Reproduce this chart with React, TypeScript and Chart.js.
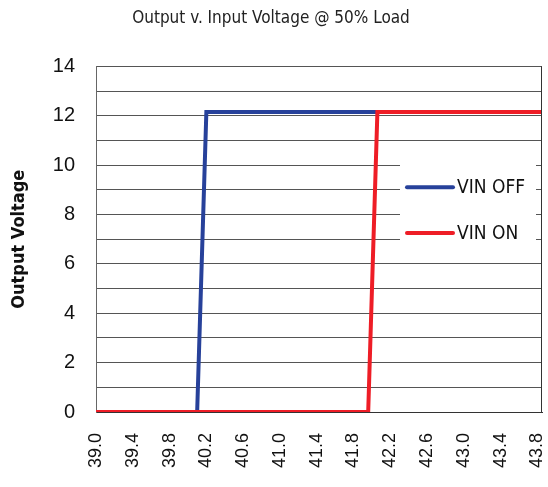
import React, { useEffect, useRef } from "react";
import { Chart, registerables } from "chart.js";

Chart.register(...registerables);

const titleText = "Output v. Input Voltage @ 50% Load";
const yAxisTitle = "Output Voltage";
const seriesNames = ["VIN OFF", "VIN ON"];
const seriesColors = ["#27419A", "#EE1D26"];

// input voltage (x) and output voltage (y) for each series
const vinOffX = [39.0, 40.1, 40.2, 43.85];
const vinOffY = [0, 0, 12.15, 12.15];
const vinOnX = [39.0, 41.96, 42.06, 43.85];
const vinOnY = [0, 0, 12.15, 12.15];

// axis ticks
const xTicks = [39.0, 39.4, 39.8, 40.2, 40.6, 41.0, 41.4, 41.8, 42.2, 42.6, 43.0, 43.4, 43.8];
const yTicks = [0, 1, 2, 3, 4, 5, 6, 7, 8, 9, 10, 11, 12, 13, 14];
const xMin = 39.0;
const xMax = 43.85;
const yMin = 0;
const yMax = 14;

const CONDENSED = "'Liberation Sans Narrow', 'DejaVu Sans Condensed', 'Liberation Sans', sans-serif";
const REGULAR = "'Liberation Sans', Arial, sans-serif";

const framePlugin = {
  id: "frameAndLegend",
  afterDatasetsDraw(chart: any) {
    const ctx = chart.ctx;
    const area = chart.chartArea;
    const yS = chart.scales.y;
    ctx.save();
    // right border of plot
    ctx.strokeStyle = "#333";
    ctx.lineWidth = 1;
    ctx.beginPath();
    ctx.moveTo(Math.round(area.right) - 0.5, area.top);
    ctx.lineTo(Math.round(area.right) - 0.5, area.bottom);
    ctx.stroke();
    // legend box
    ctx.fillStyle = "#ffffff";
    const boxLeft = 400;
    const boxRight = area.right - 6;
    const top = yS.getPixelForValue(10.35);
    const bottom = yS.getPixelForValue(6.4);
    ctx.fillRect(boxLeft, top, boxRight - boxLeft, bottom - top);
    const rows = [yS.getPixelForValue(9.1), yS.getPixelForValue(7.25)];
    chart.data.datasets.forEach((ds: any, i: number) => {
      const y = rows[i];
      ctx.strokeStyle = ds.borderColor;
      ctx.lineWidth = 4;
      ctx.lineCap = "round";
      ctx.beginPath();
      ctx.moveTo(407, y);
      ctx.lineTo(453, y);
      ctx.stroke();
      ctx.fillStyle = "#111";
      ctx.font = `19px ${CONDENSED}`;
      ctx.textBaseline = "middle";
      ctx.textAlign = "left";
      ctx.fillText(ds.label, 457, y + 1);
    });
    ctx.restore();
  },
};

export default function App() {
  const ref = useRef<HTMLCanvasElement | null>(null);
  useEffect(() => {
    if (!ref.current) return;
    const mk = (xs: number[], ys: number[]) => xs.map((x, i) => ({ x, y: ys[i] }));
    const chart = new Chart(ref.current, {
      type: "line",
      data: {
        datasets: [
          {
            label: seriesNames[0],
            data: mk(vinOffX, vinOffY),
            borderColor: seriesColors[0],
            backgroundColor: seriesColors[0],
            borderWidth: 4,
            pointRadius: 0,
            tension: 0,
            order: 2,
          },
          {
            label: seriesNames[1],
            data: mk(vinOnX, vinOnY),
            borderColor: seriesColors[1],
            backgroundColor: seriesColors[1],
            borderWidth: 4,
            pointRadius: 0,
            tension: 0,
            order: 1,
          },
        ],
      },
      options: {
        animation: false,
        responsive: false,
        maintainAspectRatio: false,
        layout: { padding: { left: 0, right: 6, top: 0, bottom: 0 } },
        plugins: {
          legend: { display: false },
          tooltip: { enabled: false },
          title: {
            display: true,
            text: titleText,
            color: "#222",
            font: { family: CONDENSED, size: 17, weight: "normal" },
            padding: { top: 8, bottom: 38 },
          },
        },
        scales: {
          x: {
            type: "linear",
            min: xMin,
            max: xMax,
            border: { display: true, color: "#333", width: 1 },
            grid: { display: false, drawTicks: false },
            afterBuildTicks: (s: any) => {
              s.ticks = xTicks.map((v) => ({ value: v }));
            },
            ticks: {
              autoSkip: false,
              minRotation: 90,
              maxRotation: 90,
              padding: 21,
              color: "#111",
              font: { family: REGULAR, size: 18 },
              callback: (v: any) => Number(v).toFixed(1),
            },
            afterFit: (s: any) => {
              s.height = 75;
              s.paddingRight = 0;
              s.paddingLeft = 0;
            },
          },
          y: {
            min: yMin,
            max: yMax,
            border: { display: true, color: "#666", width: 1 },
            grid: { color: "#555", lineWidth: 1, drawTicks: false },
            afterBuildTicks: (s: any) => {
              s.ticks = yTicks.map((v) => ({ value: v }));
            },
            ticks: {
              autoSkip: false,
              padding: 21,
              color: "#111",
              font: { family: REGULAR, size: 20 },
              callback: (v: any) => (Number(v) % 2 === 0 ? String(v) : ""),
            },
            title: {
              display: true,
              text: yAxisTitle,
              color: "#111",
              font: { family: CONDENSED, size: 18, weight: "bold" },
              padding: { top: 9, bottom: 0 },
            },
            afterFit: (s: any) => {
              s.width = 96;
            },
          },
        },
      },
      plugins: [framePlugin],
    });
    return () => chart.destroy();
  }, []);
  return (
    <div style={{ position: "absolute", left: 0, top: 0, width: 548, height: 487, background: "#fff" }}>
      <canvas ref={ref} width={548} height={487} style={{ display: "block", width: 548, height: 487 }} />
    </div>
  );
}
